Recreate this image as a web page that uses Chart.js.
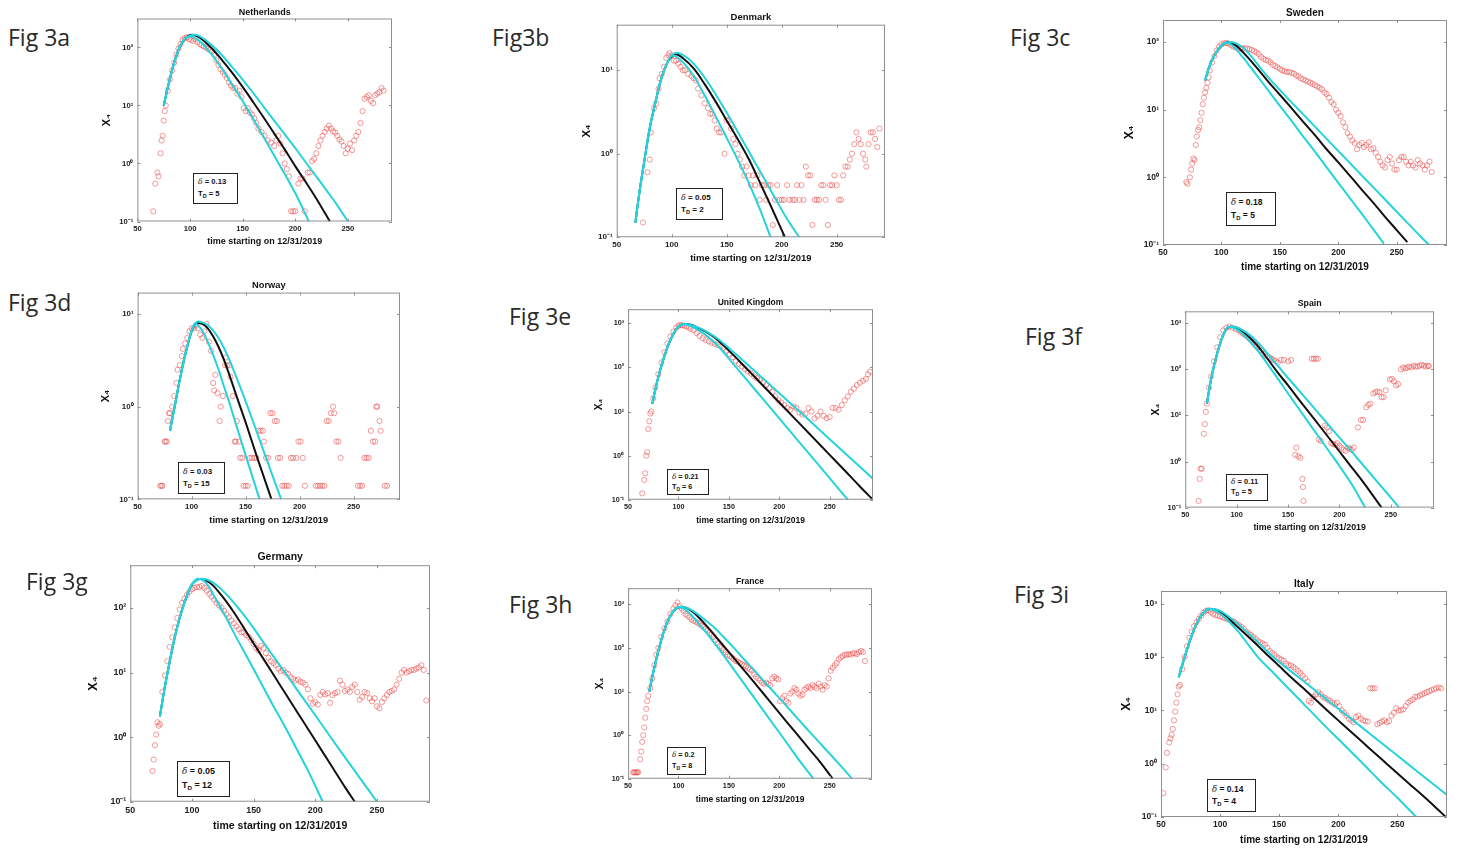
<!DOCTYPE html>
<html>
<head>
<meta charset="utf-8">
<script src="https://cdn.jsdelivr.net/npm/chart.js@4.4.1/dist/chart.umd.min.js"></script>
<style>
  body { margin: 0; width: 1458px; height: 850px; background: #fff; position: relative; overflow: hidden; }
  canvas { position: absolute; }
  .fig { position: absolute; font-family: "Open Sans", sans-serif; font-size: 23px; line-height: 30px; color: #2b2b2b; white-space: nowrap; }
  .note { position: absolute; box-sizing: border-box; border: 1.6px solid #222; background: #fff;
          font-family: "Liberation Sans", Arial, sans-serif; font-weight: bold; color: #111; padding: 2px 0 0 4px; }
  .note i { font-family: "DejaVu Serif", serif; font-weight: normal; }
  .note sub { font-size: 70%; vertical-align: -2px; line-height: 0; }
</style>
</head>
<body>
<script>
// ---- shared axis ticks ----
const xTickVals = [50, 100, 150, 200, 250];
const yTickVals = [0.1, 1, 10, 100, 1000];
const yTickText = ['10⁻¹', '10⁰', '10¹', '10²', '10³'];

// ---- country names and fitted parameters ----
const countries = ['Netherlands', 'Denmark', 'Sweden', 'Norway', 'United Kingdom', 'Spain', 'Germany', 'France', 'Italy'];
const deltas = ['0.13', '0.05', '0.18', '0.03', '0.21', '0.11', '0.05', '0.2', '0.14'];
const tds = ['5', '2', '5', '15', '6', '5', '12', '8', '4'];
const figNames = ['Fig 3a', 'Fig3b', 'Fig 3c', 'Fig 3d', 'Fig 3e', 'Fig 3f', 'Fig 3g', 'Fig 3h', 'Fig 3i'];

// ---- Netherlands ----
const nlObs = [[65,0.15],[67,0.45],[69,0.7],[70,0.6],[72,1.5],[73,2.5],[74,3],[75,5.5],[76,8],[77,10],[79,18],[81,28],[83,40],[85,55],[87,75],[89,95],[91,115],[93,135],[95,145],[97,150],[99,140],[101,135],[103,130],[105,140],[107,125],[109,115],[111,110],[113,105],[115,100],[117,95],[119,90],[121,85],[123,75],[125,60],[127,50],[129,42],[131,38],[133,34],[135,30],[137,25],[139,22],[141,20],[143,20],[145,16],[147,18],[149,14],[151,9],[153,8],[155,9],[157,7.5],[159,7],[161,6],[163,5],[165,4],[168,3.5],[171,3],[174,2.5],[177,2.3],[180,2],[182,2.5],[184,3],[186,2.2],[188,1.5],[190,1],[192,0.8],[194,0.6],[196,0.15],[198,0.15],[200,0.15],[203,0.45],[205,0.55],[207,0.55],[209,0.15],[212,0.7],[214,0.7],[216,1.1],[218,1.2],[220,1.5],[222,2],[224,2.5],[226,3],[228,3.5],[230,4],[232,4.5],[234,4],[236,3.6],[238,3.4],[240,3],[242,2.6],[244,2.4],[246,2],[248,1.5],[250,1.8],[252,2.2],[254,1.7],[256,2.5],[258,3],[260,3.5],[262,5],[264,8],[266,13],[268,14],[270,15],[272,12],[274,11],[276,15],[278,16],[280,17],[282,20],[284,18]];
const nlBlack = [[75,10],[80,25],[85,55],[90,100],[95,140],[102,165],[110,145],[120,100],[130,62],[140,37],[150,21],[160,11.5],[170,6.2],[180,3.3],[190,1.75],[200,0.9],[210,0.48],[220,0.25],[233,0.1]];
const nlCyanLo = [[75,10],[80,25],[85,55],[90,100],[95,140],[100,155],[110,125],[120,78],[130,44],[140,23],[150,12],[160,5.9],[170,2.85],[180,1.37],[190,0.66],[200,0.31],[213,0.1]];
const nlCyanHi = [[75,10],[80,25],[85,55],[90,100],[95,142],[100,160],[105,165],[112,145],[120,112],[130,75],[140,46],[150,28],[160,16.5],[170,9.5],[180,5.5],[190,3.2],[200,1.85],[210,1.05],[220,0.6],[230,0.34],[240,0.19],[250,0.1]];

// ---- Denmark ----
const dkObs = [[74,0.15],[78,0.6],[80,0.85],[81,1.8],[84,3.5],[86,4],[88,6],[89,8],[91,9],[93,11],[95,14],[97,15],[98,16],[100,15],[102,13],[104,13],[106,12],[108,11],[110,10],[112,10],[115,9],[118,8.5],[120,8],[122,7.5],[124,6],[127,5],[130,4],[133,3.5],[135,3],[137,3],[139,2.5],[141,2],[143,1.8],[145,1.8],[148,1],[150,2.5],[152,2.5],[154,2],[156,1.5],[158,1.3],[160,1.0],[162,0.85],[164,0.7],[166,0.55],[168,0.7],[170,0.55],[172,0.42],[174,0.55],[176,0.42],[178,0.55],[180,0.28],[182,0.42],[184,0.42],[186,0.28],[188,0.42],[190,0.42],[192,0.14],[194,0.28],[196,0.42],[198,0.28],[200,0.28],[202,0.28],[205,0.42],[207,0.28],[210,0.28],[212,0.28],[214,0.42],[216,0.28],[218,0.42],[220,0.28],[222,0.7],[224,0.55],[226,0.55],[228,0.14],[230,0.28],[232,0.28],[234,0.28],[236,0.42],[238,0.42],[240,0.28],[242,0.14],[244,0.42],[246,0.42],[248,0.55],[250,0.42],[252,0.28],[254,0.28],[256,0.55],[258,0.7],[260,0.7],[262,0.85],[264,1.0],[266,1.3],[268,1.8],[270,1.5],[272,1.3],[274,1.0],[276,0.85],[277,0.7],[279,1.3],[281,1.8],[283,1.8],[285,1.5],[287,1.2],[289,2.0]];
const dkBlack = [[67,0.15],[70,0.3],[75,0.8],[80,2],[85,4],[90,7.5],[95,11.5],[100,14.5],[104,15.5],[110,14],[120,10.5],[130,6.8],[140,4.2],[150,2.5],[160,1.5],[170,0.87],[180,0.46],[190,0.24],[203,0.1]];
const dkCyanLo = [[67,0.15],[70,0.3],[75,0.8],[80,2],[85,4],[90,7.5],[95,11.5],[101,15],[110,12.5],[120,8.5],[130,5],[140,2.8],[150,1.55],[160,0.85],[170,0.45],[180,0.22],[190,0.1]];
const dkCyanHi = [[67,0.15],[70,0.3],[75,0.8],[80,2],[85,4],[90,7.5],[95,11.5],[100,15],[105,16.2],[115,13.8],[125,10],[135,6.5],[145,4],[155,2.4],[165,1.4],[175,0.82],[185,0.48],[195,0.28],[205,0.165],[216,0.1]];

// ---- Sweden ----
const seObs = [[70,0.85],[71,0.8],[73,1.0],[74,1.3],[75,1.6],[76,1.9],[77,1.8],[78,3],[79,4],[80,5],[81,5.5],[82,7],[83,9],[84,12],[85,15],[86,18],[87,21],[88,25],[89,30],[90,38],[92,50],[94,62],[96,75],[98,85],[100,92],[102,95],[104,97],[106,95],[108,90],[110,86],[112,83],[114,80],[116,80],[118,81],[120,80],[122,80],[124,78],[126,76],[128,73],[130,70],[132,66],[134,60],[136,56],[138,54],[140,53],[142,50],[144,46],[146,44],[148,42],[150,40],[152,38],[154,37],[156,36],[158,36],[160,35],[162,34],[164,32],[166,31],[168,29],[170,28],[172,27],[174,26],[176,25],[178,24],[180,23],[182,22],[184,21],[186,20],[188,18],[190,17],[192,15],[194,13],[196,12],[198,10],[200,9],[202,8],[204,6.5],[206,5.5],[208,4.5],[210,4],[212,3.5],[214,3.2],[216,2.6],[218,3.0],[220,3.2],[222,2.8],[224,3.0],[226,3.3],[228,2.6],[230,2.7],[232,2.3],[234,2.0],[236,1.7],[238,1.5],[240,1.4],[242,1.8],[244,2.0],[246,1.6],[248,1.3],[250,1.3],[252,1.8],[254,2.0],[256,2.0],[258,1.7],[260,1.5],[262,1.7],[264,1.5],[266,1.4],[268,1.8],[270,1.6],[272,1.5],[274,1.3],[276,1.5],[278,1.7],[280,1.2]];
const seBlack = [[86,27],[90,45],[95,68],[100,88],[106,99],[112,90],[116,78],[120,66],[125,53],[130,42],[140,26],[150,16.6],[160,10.5],[170,6.6],[180,4.2],[190,2.6],[200,1.66],[210,1.05],[220,0.66],[230,0.42],[240,0.26],[250,0.166],[259,0.11]];
const seCyanLo = [[86,27],[90,45],[95,68],[100,88],[104,98],[108,92],[112,80],[116,66],[120,55],[125,42],[130,32.5],[140,19.3],[150,11.4],[160,6.8],[170,4.0],[180,2.4],[190,1.4],[200,0.83],[210,0.49],[220,0.29],[230,0.17],[239,0.105]];
const seCyanHi = [[86,27],[90,45],[95,68],[100,88],[108,100],[112,96],[116,88],[120,78],[125,63],[130,49],[140,30],[150,19.5],[160,12.8],[170,8.5],[180,5.6],[190,3.7],[200,2.45],[210,1.62],[220,1.07],[230,0.71],[240,0.47],[250,0.31],[260,0.205],[270,0.136],[279,0.095]];

// ---- Norway ----
const noObs = [[71,0.14],[72,0.14],[73,0.14],[75,0.42],[76,0.42],[77,0.42],[78,0.7],[79,0.85],[80,0.85],[82,1.0],[84,1.3],[86,1.8],[87,2.5],[89,2.8],[91,3.5],[92,4.2],[94,4.8],[96,5.5],[98,6.5],[100,7],[102,7],[104,7.5],[106,7],[108,6],[110,5.5],[112,6.5],[114,7.8],[116,5],[118,4],[120,1.8],[121,1.5],[122,2.2],[124,1.4],[126,0.7],[127,1.0],[129,1.3],[131,2.8],[132,3.4],[133,2.8],[135,2.8],[136,2.1],[138,1.3],[140,0.42],[141,0.42],[142,0.7],[144,0.42],[145,0.28],[147,0.28],[148,0.14],[150,0.14],[152,0.14],[154,0.28],[156,0.28],[158,0.28],[160,0.28],[162,0.55],[164,0.55],[166,0.55],[167,0.42],[169,0.28],[171,0.28],[173,0.85],[175,0.85],[177,0.7],[179,0.7],[180,0.28],[182,0.28],[184,0.14],[186,0.14],[188,0.14],[190,0.14],[192,0.28],[194,0.28],[197,0.28],[199,0.42],[201,0.42],[203,0.28],[205,0.14],[215,0.14],[217,0.14],[219,0.14],[221,0.14],[223,0.14],[225,0.7],[227,0.7],[229,0.85],[231,1.0],[232,0.85],[234,0.42],[236,0.42],[238,0.28],[254,0.14],[256,0.14],[258,0.14],[260,0.28],[262,0.28],[264,0.28],[266,0.55],[268,0.42],[270,0.42],[271,1.0],[272,1.0],[274,0.7],[275,0.55],[279,0.14],[281,0.14]];
const noBlack = [[80,0.55],[85,1.1],[90,2.2],[95,4],[100,6.5],[105,8],[110,7.8],[115,7.0],[120,5.7],[125,4.4],[130,3.2],[135,2.2],[140,1.48],[145,1.0],[150,0.68],[160,0.3],[174,0.1]];
const noCyanLo = [[80,0.55],[85,1.1],[90,2.2],[95,4],[100,6.5],[103,7.9],[110,6.6],[115,5],[120,3.6],[125,2.5],[130,1.65],[135,1.1],[140,0.71],[150,0.3],[163,0.1]];
const noCyanHi = [[80,0.55],[85,1.1],[90,2.2],[95,4],[100,6.6],[106,8.3],[110,8.1],[115,7.6],[120,6.6],[125,5.5],[130,4.3],[135,3.2],[140,2.3],[150,1.15],[160,0.55],[170,0.26],[183,0.1]];

// ---- United Kingdom ----
const ukObs = [[64,0.14],[66,0.28],[67,0.4],[68,1.0],[69,1.2],[70,4],[71,6],[72,9],[73,10],[75,20],[77,35],[80,70],[83,130],[86,220],[89,350],[92,500],[95,650],[98,800],[100,880],[102,920],[104,900],[106,880],[108,850],[110,800],[112,750],[115,700],[118,600],[121,520],[124,460],[127,420],[130,390],[133,360],[136,340],[139,320],[142,300],[145,280],[148,240],[151,200],[154,170],[157,140],[160,120],[163,105],[166,92],[169,80],[172,72],[175,63],[178,57],[181,52],[184,46],[187,40],[190,34],[193,28],[196,22],[199,18],[202,16],[205,14],[208,12],[211,11],[214,13],[217,12],[220,9.5],[223,8.5],[226,9],[229,12],[232,10],[235,7],[238,8],[241,10],[244,8],[247,7],[250,7.5],[253,12],[256,12],[259,11],[262,14],[265,18],[268,22],[271,28],[274,33],[277,40],[280,45],[283,50],[286,55],[288,70],[290,80]];
const ukBlack = [[74,15],[78,40],[82,90],[86,180],[90,330],[95,580],[100,850],[106,960],[112,925],[120,780],[130,590],[140,400],[150,240],[161,135],[175,63],[190,27.7],[205,12.2],[220,5.4],[235,2.37],[250,1.04],[265,0.46],[280,0.2],[293,0.1]];
const ukCyanLo = [[74,15],[78,40],[82,90],[86,180],[90,330],[95,580],[100,850],[104,960],[110,900],[120,700],[130,480],[140,295],[150,158],[160,85],[175,33.3],[190,13.1],[205,5.1],[220,2.0],[235,0.79],[250,0.31],[268,0.1]];
const ukCyanHi = [[74,15],[78,40],[82,90],[86,180],[90,330],[95,580],[100,850],[107,960],[112,920],[120,800],[130,610],[140,430],[150,275],[161,165],[175,85],[190,42],[205,20.5],[220,10],[235,4.9],[250,2.35],[265,1.15],[280,0.56],[293,0.3]];

// ---- Spain ----
const esObs = [[63,0.14],[64,0.42],[65,0.7],[66,0.7],[68,4],[69,6.5],[70,12],[71,18],[73,40],[75,70],[78,150],[81,300],[84,500],[87,700],[90,800],[93,850],[96,800],[99,750],[102,700],[104,650],[106,600],[108,560],[110,520],[112,470],[114,430],[116,380],[118,340],[120,320],[122,300],[124,260],[126,220],[128,200],[130,190],[132,180],[134,170],[136,160],[138,150],[140,140],[143,160],[146,160],[150,150],[153,160],[157,1.4],[158,2.0],[160,1.3],[162,1.2],[164,0.42],[164.5,0.28],[165,0.14],[173,170],[175,170],[177,170],[179,170],[180,3],[182,2.8],[186,6],[188,5.5],[190,4.5],[192,2.5],[194,2.4],[196,2.3],[198,2.5],[200,2.2],[202,2.0],[204,1.8],[206,1.7],[208,2],[210,1.9],[212,1.8],[214,2],[218,5.5],[221,8],[223,8],[226,15],[228,17],[230,18],[233,30],[235,32],[237,33],[239,32],[241,25],[243,25],[245,35],[249,60],[251,62],[253,55],[255,45],[257,48],[260,100],[262,110],[264,105],[266,110],[268,115],[270,110],[272,120],[274,115],[276,115],[278,120],[280,125],[282,120],[284,115],[286,120],[287,118]];
const esBlack = [[71,18],[75,60],[80,180],[85,430],[90,750],[94,840],[100,790],[110,560],[120,330],[130,170],[140,85],[150,45],[160,23],[170,12],[180,6.2],[190,3.2],[200,1.65],[210,0.85],[220,0.44],[230,0.22],[241,0.1]];
const esCyanLo = [[71,18],[75,60],[80,180],[85,430],[90,760],[92,850],[100,740],[110,480],[120,260],[130,130],[140,63],[150,30],[160,14.5],[170,7],[180,3.4],[190,1.65],[200,0.8],[212,0.32],[225,0.1]];
const esCyanHi = [[71,18],[75,60],[80,180],[85,430],[90,760],[95,850],[100,820],[110,620],[120,400],[130,220],[140,120],[150,65],[160,36],[170,20],[180,11],[190,6],[200,3.3],[210,1.85],[220,1.0],[230,0.55],[240,0.3],[250,0.165],[258,0.1]];

// ---- Germany ----
const deObs = [[68,0.3],[69,0.45],[70,0.75],[71,1.1],[72,1.7],[73,1.5],[74,1.6],[76,5],[78,9],[80,15],[82,25],[84,35],[86,50],[88,70],[90,95],[92,120],[94,140],[96,160],[98,180],[100,195],[102,205],[104,210],[106,212],[108,220],[110,205],[112,185],[114,165],[116,150],[118,135],[120,120],[122,110],[124,100],[126,90],[128,80],[130,72],[132,64],[134,58],[136,52],[138,47],[140,42],[142,42],[144,38],[146,36],[148,32],[150,28],[152,24],[154,22],[156,26],[158,24],[160,20],[162,17],[164,15],[166,14],[168,13],[170,11.5],[172,10.5],[174,11],[176,10],[178,9.5],[180,8.5],[182,8],[184,7.5],[186,7.8],[188,7.2],[190,7],[192,6.5],[194,5.5],[196,4],[198,3.3],[200,3.5],[202,3.2],[204,4.5],[206,5],[208,4.6],[210,4.8],[212,3.4],[214,4.5],[216,4.8],[218,5],[220,7.5],[222,6.5],[224,5.2],[226,5.5],[228,5],[230,6],[232,6.5],[234,5],[236,3.8],[238,4.2],[240,5],[242,4.8],[244,4],[246,3.6],[248,4],[250,3],[252,2.8],[254,3.5],[256,4],[258,4.5],[260,5],[262,5.2],[264,5.5],[266,6.5],[268,8],[270,10],[272,11],[274,10],[276,10.5],[278,11],[280,11],[282,11.5],[284,12],[286,13],[288,11],[290,3.7]];
const deBlack = [[74,2.1],[78,6],[82,15],[86,35],[90,70],[95,140],[100,230],[107,280],[112,263],[117,224],[122,175],[127,132],[135,80],[145,40],[155,20],[165,10],[175,5],[185,2.5],[195,1.26],[205,0.63],[215,0.316],[225,0.158],[232,0.1]];
const deCyanLo = [[74,2.1],[78,6],[82,15],[86,35],[90,70],[95,140],[100,235],[105,285],[110,260],[115,195],[120,130],[127,75],[135,38],[145,17],[155,7.5],[165,3.3],[175,1.5],[185,0.65],[195,0.28],[206,0.1]];
const deCyanHi = [[74,2.1],[78,6],[82,15],[86,35],[90,70],[95,140],[100,230],[108,285],[115,262],[120,225],[127,170],[135,115],[145,66],[155,35.5],[165,19],[175,10.3],[185,5.5],[195,2.97],[205,1.6],[215,0.85],[225,0.46],[235,0.25],[250,0.1]];

// ---- France ----
const frObs = [[55,0.14],[56,0.14],[57,0.14],[58,0.14],[59,0.14],[60,0.14],[62,0.28],[63,0.42],[64,0.7],[65,1.0],[66,1.5],[67,2.5],[68,4],[69,6],[70,8],[72,12],[74,20],[76,40],[78,70],[80,100],[83,180],[86,280],[89,400],[92,600],[95,800],[97,950],[99,1100],[101,900],[103,800],[105,700],[107,600],[109,550],[111,500],[113,450],[115,420],[117,400],[119,380],[121,350],[123,320],[125,300],[127,270],[129,250],[131,220],[133,200],[135,180],[137,150],[139,130],[141,110],[143,100],[145,90],[147,80],[149,70],[151,65],[153,60],[155,55],[157,50],[159,48],[161,45],[163,42],[165,40],[167,38],[169,35],[171,32],[173,30],[175,25],[177,22],[179,20],[181,18],[183,16],[185,15],[187,16],[189,15],[191,14],[193,20],[195,22],[197,20],[199,19],[201,6],[203,7],[205,8],[207,6],[209,5.5],[211,9],[213,10],[215,12],[217,11],[219,9],[221,8],[223,8.5],[225,11],[227,12],[229,13],[231,12],[233,14],[235,13],[237,12],[239,15],[241,13],[243,11],[245,14],[247,13],[249,20],[251,30],[253,35],[255,40],[257,45],[259,55],[261,60],[263,65],[265,70],[267,70],[269,72],[271,70],[273,75],[275,75],[277,72],[279,80],[281,85],[283,80],[285,50]];
const frBlack = [[71,10],[75,28],[80,85],[85,220],[90,450],[95,700],[102,870],[108,830],[115,650],[122,450],[130,280],[140,150],[150,80],[160,42.5],[170,22.5],[180,11.8],[190,6.2],[200,3.25],[210,1.7],[220,0.9],[230,0.47],[240,0.25],[253,0.1]];
const frCyanLo = [[71,10],[75,28],[80,85],[85,220],[90,450],[95,700],[100,870],[106,780],[113,560],[120,360],[130,190],[140,95],[150,46],[160,22],[170,10.5],[180,5],[190,2.4],[200,1.15],[210,0.55],[220,0.26],[234,0.1]];
const frCyanHi = [[71,10],[75,28],[80,85],[85,220],[90,450],[95,700],[103,880],[110,800],[118,620],[126,440],[135,300],[145,175],[155,100],[165,55],[175,31],[185,17],[195,9.5],[205,5.3],[215,2.9],[225,1.6],[235,0.9],[245,0.5],[255,0.28],[265,0.155],[272,0.1]];

// ---- Italy ----
const itObs = [[52,0.28],[54,0.85],[55,1.6],[57,2.5],[58,3],[59,3.5],[60,4.5],[61,6.5],[62,9.5],[63,14],[64,20],[65,28],[66,30],[68,60],[70,100],[72,160],[74,230],[76,300],[78,380],[80,450],[82,520],[84,600],[86,680],[88,740],[90,760],[92,700],[94,650],[96,620],[98,600],[100,580],[102,560],[104,540],[106,520],[108,500],[110,480],[112,460],[114,420],[116,400],[118,370],[120,340],[122,300],[124,280],[126,260],[128,240],[130,220],[132,200],[134,190],[136,180],[138,170],[140,150],[142,130],[144,120],[146,110],[148,100],[150,95],[152,90],[154,85],[156,75],[158,70],[160,70],[162,65],[164,60],[166,55],[168,50],[170,45],[172,40],[174,35],[175,15],[177,14],[179,18],[181,20],[183,22],[185,20],[187,18],[189,17],[191,16],[193,15],[195,14],[197,13],[199,14],[201,12],[203,10],[205,9],[207,8],[209,7],[211,6.5],[213,6],[215,7.5],[217,8],[219,7],[221,6.5],[223,6.3],[225,6.2],[227,26],[229,26],[231,26],[233,5.5],[235,5.8],[237,6.2],[239,6.5],[241,6],[243,6.3],[245,8],[247,9],[249,11],[251,10],[253,10],[255,10.5],[257,12],[259,14],[261,15],[263,16],[265,18],[267,18],[269,19],[271,20],[273,21],[275,22],[277,23],[279,24],[281,25],[283,26],[285,27],[287,26]];
const itBlack = [[65,42],[70,100],[75,220],[80,420],[85,650],[92,800],[98,750],[105,600],[112,420],[120,290],[130,180],[140,110],[150,68],[160,42],[170,26.5],[180,16.5],[190,10.3],[200,6.5],[210,4.1],[220,2.6],[230,1.64],[240,1.04],[250,0.66],[260,0.42],[270,0.27],[280,0.17],[291,0.1]];
const itCyanLo = [[65,42],[70,100],[75,220],[80,420],[85,650],[90,800],[95,760],[100,650],[108,450],[116,290],[124,170],[132,100],[145,51],[155,30],[165,17.8],[176,10],[190,4.8],[200,2.9],[210,1.75],[221,1.0],[235,0.48],[250,0.23],[266,0.1]];
const itCyanHi = [[65,42],[70,100],[75,220],[80,420],[85,650],[93,810],[100,740],[108,560],[116,400],[124,280],[132,190],[145,100],[160,54],[175,29.6],[190,16.1],[205,8.8],[220,4.8],[235,2.6],[250,1.42],[265,0.77],[280,0.42],[292,0.26]];

const series = [
  [nlObs, nlBlack, nlCyanLo, nlCyanHi],
  [dkObs, dkBlack, dkCyanLo, dkCyanHi],
  [seObs, seBlack, seCyanLo, seCyanHi],
  [noObs, noBlack, noCyanLo, noCyanHi],
  [ukObs, ukBlack, ukCyanLo, ukCyanHi],
  [esObs, esBlack, esCyanLo, esCyanHi],
  [deObs, deBlack, deCyanLo, deCyanHi],
  [frObs, frBlack, frCyanLo, frCyanHi],
  [itObs, itBlack, itCyanLo, itCyanHi],
];
const xMaxes = [292, 294, 293, 293, 293, 292, 293, 292, 292];
const yMaxes = [316, 35, 211, 17, 2090, 1820, 460, 2340, 1740];

// ---- layout (page pixels): plot box, font size, label offsets, note box, figure label ----
const layout = [
  { box: [137, 18, 392, 221],   fs: 9,    tg: 1.5, ylab: 30, xlab: 20, note: [193, 173, 45, 31],  fig: [8, 22] },
  { box: [617, 25, 885, 238],   fs: 9.5,  tg: 2.2, ylab: 30, xlab: 21, note: [676, 188, 47, 32],  fig: [492, 22] },
  { box: [1163, 20, 1447, 245], fs: 10,   tg: 2,   ylab: 33, xlab: 22, note: [1226, 192, 50, 34], fig: [1010, 22] },
  { box: [138, 293, 400, 500],  fs: 9.3,  tg: 2.3, ylab: 32, xlab: 21, note: [178, 462, 47, 32],  fig: [8, 287] },
  { box: [628, 309, 873, 500],  fs: 8.5,  tg: 2.7, ylab: 29, xlab: 21, note: [667, 469, 42, 26],  fig: [509, 301] },
  { box: [1185, 311, 1434, 507],fs: 8.8,  tg: 3.5, ylab: 29, xlab: 20, note: [1226, 474, 42, 27], fig: [1025, 321] },
  { box: [130, 565, 430, 802],  fs: 10.5, tg: 2.7, ylab: 37, xlab: 24, note: [177, 761, 53, 36],  fig: [26, 566] },
  { box: [628, 588, 872, 779],  fs: 8.5,  tg: 2.7, ylab: 28, xlab: 21, note: [667, 747, 39, 28],  fig: [509, 589] },
  { box: [1161, 591, 1447, 817],fs: 10,   tg: 2,   ylab: 34, xlab: 23, note: [1207, 779, 49, 33], fig: [1014, 579] },
];

const FONT = '"Liberation Sans", Arial, sans-serif';
const RED = 'rgba(236, 72, 72, 0.62)';
const CYAN = '#25d3dc';
const pts = arr => arr.map(([x, y]) => ({ x, y }));

// MATLAB-like box around the axes with small inward ticks
const framePlugin = {
  id: 'frame',
  afterDraw(chart) {
    const a = chart.chartArea, ctx = chart.ctx;
    const xs = chart.scales.x, ys = chart.scales.y;
    ctx.save();
    ctx.strokeStyle = '#8f8f8f';
    ctx.lineWidth = 1;
    ctx.strokeRect(a.left + 0.5, a.top + 0.5, a.right - a.left - 1, a.bottom - a.top - 1);
    ctx.beginPath();
    xs.ticks.forEach(t => {
      const px = Math.round(xs.getPixelForValue(t.value)) + 0.5;
      ctx.moveTo(px, a.bottom); ctx.lineTo(px, a.bottom - 3);
      ctx.moveTo(px, a.top); ctx.lineTo(px, a.top + 3);
    });
    ys.ticks.forEach(t => {
      const py = Math.round(ys.getPixelForValue(t.value)) + 0.5;
      ctx.moveTo(a.left, py); ctx.lineTo(a.left + 3, py);
      ctx.moveTo(a.right, py); ctx.lineTo(a.right - 3, py);
    });
    ctx.stroke();
    ctx.restore();
  }
};

function lineSet(data, color, order) {
  return {
    data: pts(data), showLine: true, borderColor: color, borderWidth: 2,
    pointRadius: 0, cubicInterpolationMode: 'monotone', order: order
  };
}

function makePanel(i) {
  const lay = layout[i];
  const [L, T, R, B] = lay.box;
  const fs = lay.fs;
  const tickFs = fs * 0.85;
  const padL = lay.ylab + fs * 0.6;
  const padB = lay.xlab + fs / 2;
  const head = 2 + fs + lay.tg;
  const padR = 6;

  const cv = document.createElement('canvas');
  cv.width = Math.round(R - L + padL + padR);
  cv.height = Math.round(B - T + head + padB);
  cv.style.left = (L - padL) + 'px';
  cv.style.top = (T - head) + 'px';
  document.body.appendChild(cv);

  const [obs, black, lo, hi] = series[i];
  const yMax = yMaxes[i];

  new Chart(cv, {
    type: 'scatter',
    data: {
      datasets: [
        { data: pts(obs), pointRadius: 2.6, pointBorderWidth: 0.9, pointBorderColor: RED,
          pointBackgroundColor: 'rgba(0,0,0,0)', showLine: false, order: 4 },
        lineSet(black, '#111111', 3),
        lineSet(lo, CYAN, 2),
        lineSet(hi, CYAN, 1),
      ]
    },
    options: {
      responsive: false,
      animation: false,
      events: [],
      layout: { padding: { top: 2, right: padR, left: 0, bottom: 0 } },
      plugins: {
        legend: { display: false },
        tooltip: { enabled: false },
        title: {
          display: true, text: countries[i], color: '#111', fullSize: false,
          font: { family: FONT, size: fs, weight: 'bold', lineHeight: 1 },
          padding: { top: 0, bottom: lay.tg }
        }
      },
      scales: {
        x: {
          type: 'linear', min: 50, max: xMaxes[i],
          afterBuildTicks: s => { s.ticks = xTickVals.map(v => ({ value: v })); },
          afterFit: s => { s.height = padB; },
          grid: { display: false, drawTicks: false },
          border: { display: false },
          ticks: { color: '#222', padding: 3, maxRotation: 0, autoSkip: false,
                   font: { family: FONT, size: tickFs, weight: 'bold' } },
          title: { display: true, text: 'time starting on 12/31/2019', color: '#111', padding: 0,
                   font: { family: FONT, size: fs, weight: 'bold', lineHeight: 1 } }
        },
        y: {
          type: 'logarithmic', min: 0.1, max: yMax,
          afterBuildTicks: s => { s.ticks = yTickVals.filter(v => v <= yMax).map(v => ({ value: v })); },
          afterFit: s => { s.width = padL; },
          grid: { display: false, drawTicks: false },
          border: { display: false },
          ticks: { color: '#222', padding: 4, autoSkip: false,
                   callback: v => yTickText[yTickVals.indexOf(v)],
                   font: { family: FONT, size: tickFs, weight: 'bold' } },
          title: { display: true, text: 'X₄', color: '#111', padding: 0,
                   font: { family: FONT, size: fs * 1.2, weight: 'bold', lineHeight: 1 } }
        }
      }
    },
    plugins: [framePlugin]
  });

  // parameter box
  const [nx, ny, nw, nh] = lay.note;
  const note = document.createElement('div');
  note.className = 'note';
  note.style.left = nx + 'px';
  note.style.top = ny + 'px';
  note.style.width = nw + 'px';
  note.style.height = nh + 'px';
  note.style.fontSize = (fs * 0.85) + 'px';
  note.style.lineHeight = (nh * 0.38) + 'px';
  note.style.paddingTop = (nh * 0.08) + 'px';
  note.innerHTML = '<i>δ</i> = ' + deltas[i] + '<br>T<sub>D</sub> = ' + tds[i];
  document.body.appendChild(note);

  // figure label
  const fig = document.createElement('div');
  fig.className = 'fig';
  fig.style.left = lay.fig[0] + 'px';
  fig.style.top = lay.fig[1] + 'px';
  fig.textContent = figNames[i];
  document.body.appendChild(fig);
}

for (let i = 0; i < countries.length; i++) makePanel(i);
</script>
</body>
</html>
